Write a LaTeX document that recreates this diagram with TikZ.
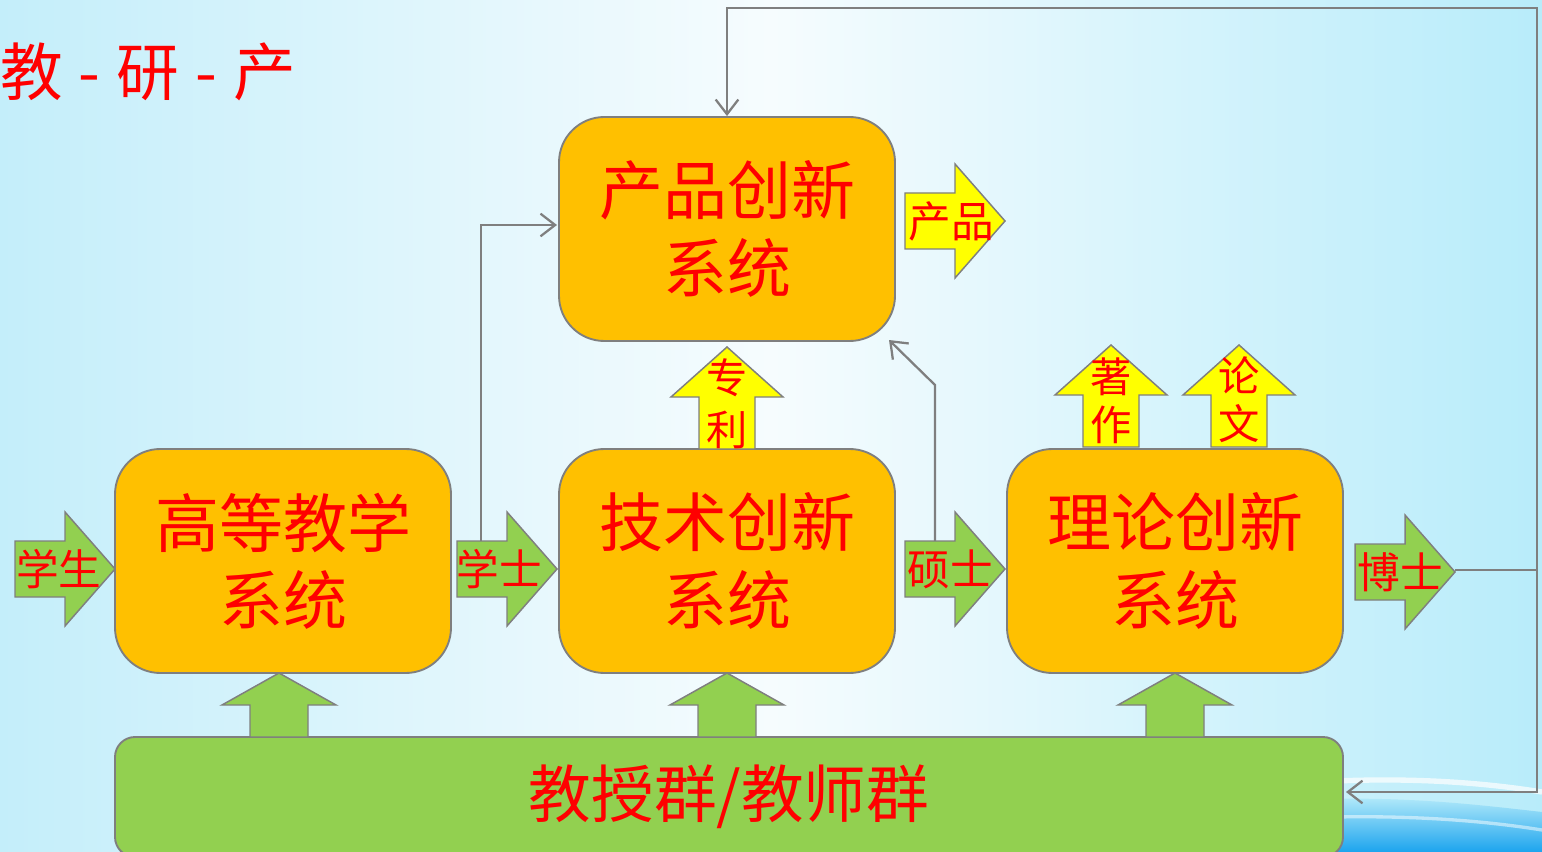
\documentclass[tikz,border=0pt]{standalone}
\usepackage{fontspec}
\setmainfont{Noto Sans CJK SC}
\usetikzlibrary{arrows.meta}
\definecolor{linegray}{HTML}{7F7F7F}
\definecolor{orangef}{HTML}{FFC000}
\definecolor{greenf}{HTML}{92D050}
\definecolor{yellowf}{HTML}{FFFF00}
\definecolor{redt}{HTML}{FF0000}
\definecolor{bgl}{HTML}{C4EEFA}
\definecolor{bgr}{HTML}{B8ECFA}
\definecolor{bgm}{HTML}{F6FCFE}
\definecolor{deepblue}{HTML}{1CA4EE}
\tikzset{
  sysbox/.style={draw=linegray, line width=1.4pt, fill=orangef, rounded corners=34pt,
    minimum width=252pt, minimum height=168pt, align=center, text=redt,
    font=\fontsize{48}{58}\selectfont, inner sep=0pt},
  basebox/.style={draw=linegray, line width=1.4pt, fill=greenf, rounded corners=15pt,
    minimum width=921pt, minimum height=90pt, text=redt,
    font=\fontsize{47}{56}\selectfont, inner sep=0pt},
  lbl/.style={text=redt, font=\fontsize{32}{39}\selectfont, inner sep=0pt, align=center},
  vlbl/.style={text=redt, font=\fontsize{31}{36}\selectfont, inner sep=0pt, align=center},
  shapeline/.style={draw=linegray, line width=1.1pt},
  conn/.style={draw=linegray, line width=1.7pt, -{Straight Barb[length=11pt,width=17pt]}},
  plain/.style={draw=linegray, line width=1.7pt},
  rarr/.pic={\path[pic actions] (0,-28) -- (50,-28) -- (50,-57) -- (100,0) -- (50,57) -- (50,28) -- (0,28) -- cycle;},
  uarr/.pic={\path[pic actions] (-28,0) -- (-28,-52) -- (-56,-52) -- (0,-102) -- (56,-52) -- (28,-52) -- (28,0) -- cycle;},
  garr/.pic={\path[pic actions] (-29,0) -- (-29,-32) -- (-57,-32) -- (0,-64) -- (57,-32) -- (29,-32) -- (29,0) -- cycle;}
}
\begin{document}
\begin{tikzpicture}[x=0.75pt,y=-0.75pt]
\clip (0,0) rectangle (1542,852);
\useasboundingbox (0,0) rectangle (1542,852);
% background
\shade[left color=bgl, right color=bgr, middle color=bgm] (0,0) rectangle (1542,852);
\shade[top color=bgr, bottom color=deepblue] (1300,800) .. controls (1400,795) and (1480,805) .. (1542,812) -- (1542,852) -- (1300,852) -- cycle;
\draw[white, line width=4pt, opacity=0.7] (1300,783) .. controls (1400,776) and (1480,782) .. (1542,792);
\draw[white, line width=2.5pt, opacity=0.5] (1300,818) .. controls (1400,814) and (1480,820) .. (1542,830);

% title
\node[anchor=west, text=redt, font=\fontsize{47}{52}\selectfont, inner sep=0pt] (title) at (0,72)
  {教\hspace{12pt}-\hspace{12pt}研\hspace{12pt}-\hspace{12pt}产};

% main boxes
\node[sysbox] (cp) at (727,229) {产品创新\\系统};
\node[sysbox] (hj) at (283,561) {高等教学\\系统};
\node[sysbox] (js) at (727,561) {技术创新\\系统};
\node[sysbox] (ll) at (1175,561) {理论创新\\系统};
\node[basebox] (tb) at (729,797) {教授群/教师群};

% green up arrows from base
\pic[shapeline, fill=greenf] at (279,737) {garr};
\pic[shapeline, fill=greenf] at (727,737) {garr};
\pic[shapeline, fill=greenf] at (1175,737) {garr};

% right arrows
\pic[shapeline, fill=greenf] at (15,569) {rarr};
\pic[shapeline, fill=greenf] at (457,569) {rarr};
\pic[shapeline, fill=greenf] at (905,569) {rarr};
\pic[shapeline, fill=greenf] at (1355,572) {rarr};
\pic[shapeline, fill=yellowf] at (905,221) {rarr};

% yellow up arrows
\pic[shapeline, fill=yellowf] at (727,449) {uarr};
\pic[shapeline, fill=yellowf] at (1111,447) {uarr};
\pic[shapeline, fill=yellowf] at (1239,447) {uarr};

% labels
\node[lbl] (xs) at (59,569) {学生};
\node[lbl] (xsh) at (499,569) {学士};
\node[lbl] (ss) at (950,569) {硕士};
\node[lbl] (bs) at (1400,572) {博士};
\node[lbl] (cpl) at (951,221) {产品};
\node[vlbl, font=\fontsize{31}{39}\selectfont] (zl) at (727,404) {专\\利};
\node[vlbl] (zz) at (1111,401) {著\\作};
\node[vlbl] (lw) at (1239,400) {论\\文};

% connectors
\coordinate (xsTop) at (481,541);
\coordinate (cpIn) at (557,225);
\coordinate (ssTop) at (935,541);
\coordinate (ssBend) at (935,385);
\coordinate (cpSE) at (889,340);
\coordinate (bsTip) at (1455,570);
\coordinate (rt) at (1537,570);
\coordinate (tp) at (1537,8);
\coordinate (tbIn) at (1346,792);

\draw[conn] (xsTop) |- (cpIn);
\draw[conn] (ssTop) -- (ssBend) -- (cpSE);
\draw[plain] (bsTip) -- (rt);
\draw[conn] (rt) -- (tp) -| (cp.north);
\draw[conn] (rt) |- (tbIn);
\end{tikzpicture}
\end{document}
